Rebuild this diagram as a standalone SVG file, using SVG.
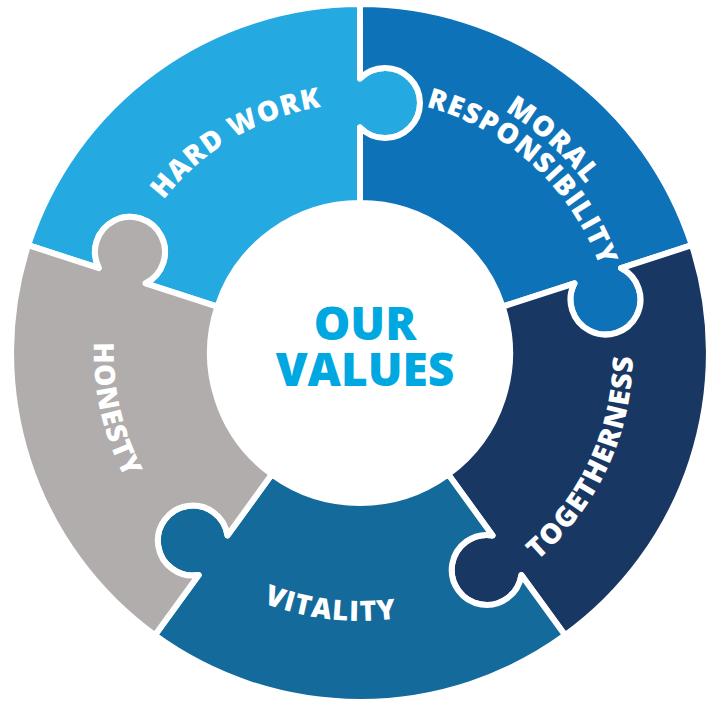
<svg xmlns="http://www.w3.org/2000/svg" xmlns:xlink="http://www.w3.org/1999/xlink" width="714" height="701" viewBox="0 0 714 701">
  <style>
    .seg { stroke: #ffffff; stroke-width: 6; stroke-linejoin: round; }
    .lbl { font-family: "Open Sans", "Noto Sans", "DejaVu Sans", sans-serif; font-weight: 800; font-size: 28px; fill: #ffffff; letter-spacing: 1.2px; }
    .ctr { font-family: "Open Sans", "Noto Sans", "DejaVu Sans", sans-serif; font-weight: 800; font-size: 46px; fill: #00A8E1; text-anchor: middle; }
  </style>
  <defs>
    <path id="piece" d="M -205.1 -282.3 A 349 349 0 0 1 205.1 -282.3 L 161.35 -222.07 A 35 35 0 1 1 132.55 -182.43 L 88.17 -121.35 A 150 150 0 0 0 -88.17 -121.35 L -132.55 -182.43 A 35 35 0 1 0 -161.35 -222.07 Z"/>
    <path id="t249" d="M -234.0 -85.2 A 249 249 0 0 1 234.0 -85.2"/>
    <path id="t255" d="M -239.6 -87.2 A 255 255 0 0 1 239.6 -87.2"/>
    <path id="t282" d="M -265.0 -96.4 A 282 282 0 0 1 265.0 -96.4"/>
    <path id="b273" d="M -256.5 93.4 A 273 273 0 0 0 256.5 93.4"/>
    <path id="b266" d="M -250.0 91.0 A 266 266 0 0 0 250.0 91.0"/>
    <path id="b268" d="M -251.8 91.7 A 268 268 0 0 0 251.8 91.7"/>
  </defs>

  <g id="hard-work">
    <use xlink:href="#piece" class="seg" fill="#24A9E1" transform="translate(360 353) rotate(-36)"/>
    <text class="lbl" text-anchor="middle" transform="translate(360 353) rotate(-30.4)"><textPath xlink:href="#t249" startOffset="50%">HARD WORK</textPath></text>
  </g>

  <g id="moral-responsibility">
    <use xlink:href="#piece" class="seg" fill="#0E72B9" transform="translate(360 353) rotate(36)"/>
    <text class="lbl" text-anchor="middle" transform="translate(360 353) rotate(42.2)"><textPath xlink:href="#t282" startOffset="50%">MORAL</textPath></text>
    <text class="lbl" text-anchor="middle" transform="translate(360 353) rotate(42.7)"><textPath xlink:href="#t255" startOffset="50%">RESPONSIBILITY</textPath></text>
  </g>

  <g id="togetherness">
    <use xlink:href="#piece" class="seg" fill="#193763" transform="translate(360 353) rotate(108)"/>
    <text class="lbl" text-anchor="middle" transform="translate(360 353) rotate(-65)"><textPath xlink:href="#b273" startOffset="50%">TOGETHERNESS</textPath></text>
  </g>

  <g id="vitality">
    <use xlink:href="#piece" class="seg" fill="#146A9A" transform="translate(360 353) rotate(180)"/>
    <text class="lbl" text-anchor="middle" transform="translate(360 353) rotate(6.6)"><textPath xlink:href="#b268" startOffset="50%">VITALITY</textPath></text>
  </g>

  <g id="honesty">
    <use xlink:href="#piece" class="seg" fill="#B0ADAC" transform="translate(360 353) rotate(252)"/>
    <text class="lbl" text-anchor="middle" transform="translate(360 353) rotate(77)"><textPath xlink:href="#b266" startOffset="50%">HONESTY</textPath></text>
  </g>

  <g id="connectors"></g>

  <g id="our-values">
    <circle cx="360" cy="353" r="150" fill="#ffffff"/>
    <text class="ctr"><tspan x="365" y="340">OUR</tspan><tspan x="365" y="386">VALUES</tspan></text>
  </g>
</svg>
